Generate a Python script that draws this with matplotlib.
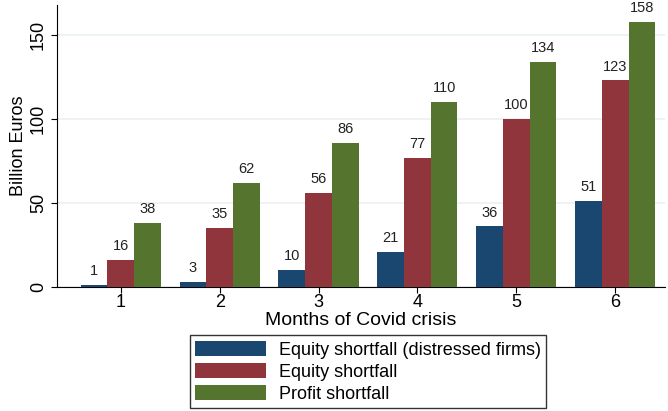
import numpy as np
import matplotlib.pyplot as plt

plt.rcParams['font.family'] = ['Liberation Sans', 'DejaVu Sans']

months = [1, 2, 3, 4, 5, 6]
equity_distressed = [1, 3, 10, 21, 36, 51]
equity = [16, 35, 56, 77, 100, 123]
profit = [38, 62, 86, 110, 134, 158]

series = [
    (equity_distressed, 'Equity shortfall (distressed firms)', '#1a476f'),
    (equity, 'Equity shortfall', '#90353b'),
    (profit, 'Profit shortfall', '#55752f'),
]

fig = plt.figure(figsize=(6.68, 4.11), dpi=100)
ax = fig.add_axes([0.086, 0.302, 0.909, 0.686])

x = np.arange(len(months)) + 1
w = 0.27
for i, (vals, label, color) in enumerate(series):
    pos = x + (i - 1) * w
    bars = ax.bar(pos, vals, width=w, color=color, label=label, zorder=3)
    ax.bar_label(bars, labels=[str(v) for v in vals], padding=5, fontsize=10.5, color='#222222')

ax.set_xlim(0.36, 6.5)
ax.set_ylim(0, 168)
ax.set_xticks(x)
ax.set_xticklabels([str(m) for m in months], fontsize=13)
ax.set_yticks([0, 50, 100, 150])
ax.set_yticklabels(['0', '50', '100', '150'], fontsize=13, rotation=90, va='center')
ax.grid(axis='y', color='#eaf0f2', linewidth=1.2, zorder=0)
ax.spines['top'].set_visible(False)
ax.spines['right'].set_visible(False)
ax.tick_params(length=4, color='black')
ax.tick_params(axis='x', pad=1)
ax.set_xlabel('Months of Covid crisis', fontsize=14, labelpad=1)
ax.set_ylabel('Billion Euros', fontsize=13, labelpad=2)

leg = fig.legend(loc='upper center', bbox_to_anchor=(0.551, 0.184), ncol=1, fontsize=13,
                 frameon=True, fancybox=False, edgecolor='black', handlelength=3.9,
                 handleheight=0.9, handletextpad=0.75, labelspacing=0.24, borderpad=0.3,
                 borderaxespad=0)
leg.get_frame().set_linewidth(1.0)

plt.savefig('out.png', dpi=100)
